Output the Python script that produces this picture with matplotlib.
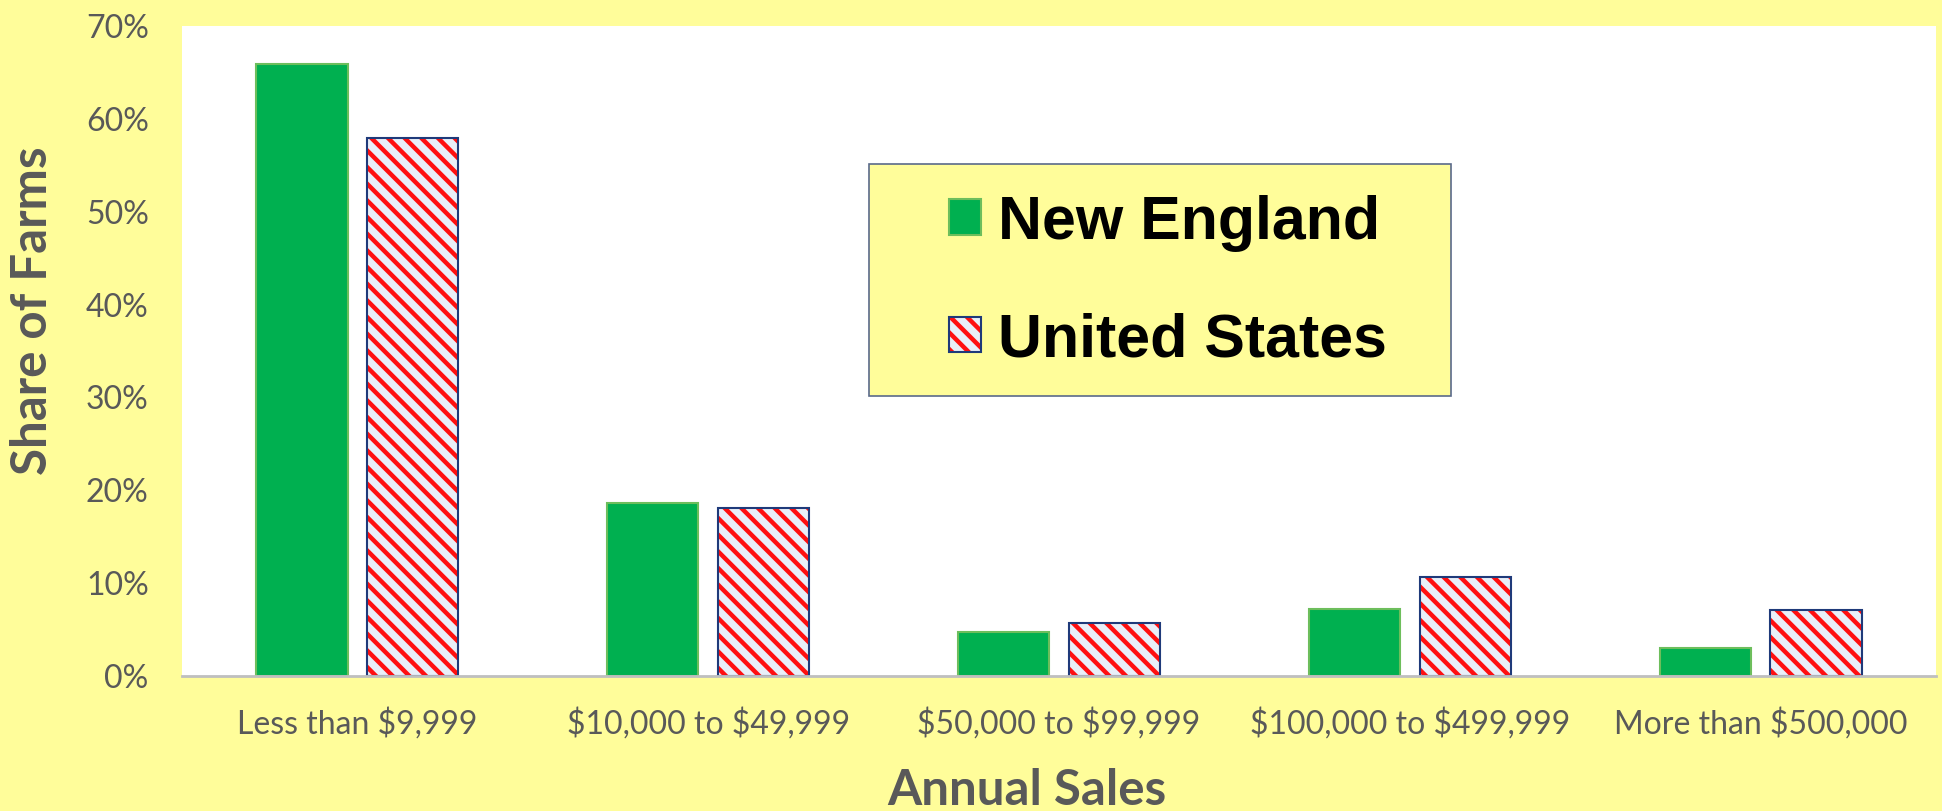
import matplotlib
matplotlib.use("Agg")
import matplotlib.pyplot as plt
from matplotlib.patches import Rectangle, Patch
from matplotlib.ticker import FuncFormatter
import numpy as np

categories = ["Less than $9,999", "$10,000 to $49,999", "$50,000 to $99,999",
              "$100,000 to $499,999", "More than $500,000"]
new_england = [65.9, 18.6, 4.7, 7.2, 3.0]
united_states = [57.9, 18.1, 5.7, 10.7, 7.1]

BG = "#FFFD9A"
GRAY = "#595959"
GREEN = "#00B050"
GREEN_EDGE = "#6DBE5C"
RED = "#FF1010"
STRIPE_BG = "#E9EFF8"
NAVY = "#1F3A7A"

plt.rcParams["hatch.linewidth"] = 3.2
plt.rcParams["text.parse_math"] = False

W, H = 1942, 811
fig = plt.figure(figsize=(W / 100, H / 100), dpi=100, facecolor=BG)
ax = fig.add_axes([182 / W, 1 - 676 / H, (1936 - 182) / W, (676 - 26) / H])
ax.set_facecolor("white")

x = np.arange(len(categories))
width = 0.26
off = 0.158

ax.bar(x - off, new_england, width, color=GREEN, edgecolor=GREEN_EDGE, linewidth=1.5, zorder=2)
ax.bar(x + off, united_states, width, color=STRIPE_BG, edgecolor=RED, hatch="\\\\",
       linewidth=0, zorder=2)
ax.bar(x + off, united_states, width, color="none", edgecolor=NAVY, linewidth=1.5, zorder=3)

ax.set_xlim(-0.5, 4.5)
ax.set_ylim(0, 70)
ax.set_yticks(np.arange(0, 71, 10))
ax.yaxis.set_major_formatter(FuncFormatter(lambda v, p: f"{v:.0f}%"))
ax.set_xticks(x)
ax.set_xticklabels(categories)

for s in ["top", "right", "left"]:
    ax.spines[s].set_visible(False)
ax.spines["bottom"].set_color("#BFBFBF")
ax.spines["bottom"].set_linewidth(2)
ax.spines["bottom"].set_zorder(4)

ax.tick_params(axis="both", length=0, colors=GRAY, labelsize=23)
ax.tick_params(axis="y", pad=24)
ax.tick_params(axis="x", pad=23)
for lab in ax.get_xticklabels() + ax.get_yticklabels():
    lab.set_family("Lato")

fig.text(1027 / W, 1 - 805 / H, "Annual Sales", ha="center", va="baseline",
         fontsize=35.5, fontweight="bold", color=GRAY, family="Lato")
fig.text(33 / W, 1 - 311 / H, "Share of Farms", ha="center", va="center", rotation=90,
         fontsize=35.5, fontweight="bold", color=GRAY, family="Lato")

# legend frame
fig.patches.append(Rectangle((869 / W, 1 - 396 / H), (1451 - 869) / W, (396 - 164) / H,
                             transform=fig.transFigure, facecolor=BG, edgecolor="#5A6A8A",
                             linewidth=1.2, zorder=5))
h_ne = Patch(facecolor=GREEN, edgecolor=GREEN_EDGE, linewidth=1.5)
h_us1 = Patch(facecolor=STRIPE_BG, edgecolor=RED, hatch="\\\\", linewidth=0)
h_us2 = Patch(facecolor="none", edgecolor=NAVY, linewidth=1.5)
leg = fig.legend([h_ne, (h_us1, h_us2)], ["New England", "United States"],
                 loc="center left", bbox_to_anchor=(949 / W, 1 - 282 / H),
                 frameon=False, borderpad=0, borderaxespad=0, labelspacing=1.0,
                 handlelength=0.53, handleheight=0.51, handletextpad=0.28,
                 prop={"family": "Liberation Sans", "weight": "bold", "size": 43.8})
leg.set_zorder(6)

fig.savefig("out.png", dpi=100, facecolor=BG)
